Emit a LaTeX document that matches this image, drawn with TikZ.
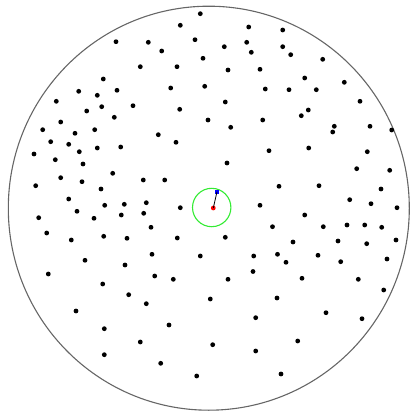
\documentclass[tikz,border=0pt]{standalone}
\begin{document}
\begin{tikzpicture}[x=1pt,y=-1pt,
  rim/.style={draw=black!60,line width=1.1pt}]
\useasboundingbox (0,0) rectangle (411,412);
\draw[rim] (208.8,208.2) ellipse [x radius=200.5, y radius=202];
\foreach \x/\y in {
116/41.7, 103.3/79, 78.7/91.3, 97.3/95.3, 117/90.3, 56.3/101.3, 101.7/106.7, 133/105.7,
86.7/111, 60.7/122, 114.3/117.3, 42.7/129.7, 75/133.3, 94.7/129.7,
200.3/13.7, 180.3/25.3, 248.7/27, 148.3/42.3, 195/39.7, 224.3/46.7, 246.7/42.3, 161.7/51,
251.3/52.3, 140.3/66.7, 177/66.7, 203/58.3, 228/70, 260/69.3, 170.7/88, 204.7/86.3,
265.3/89, 225.3/102, 179.7/109.3, 208/120, 262.7/120, 230.7/127.3, 158.3/134.7,
282.7/30, 282.7/46.7, 290.7/54.7, 322.7/59.3, 304.7/78, 344.3/82.3, 289/89.7, 316.3/89.7,
360/101.3, 308.3/110, 301.3/115.7, 334.3/126.3, 332.7/132, 370/126.3, 391.7/130,
50.7/141.7, 68.7/144.3, 79.3/151.7, 97.3/148, 120.7/147, 34/154, 55.3/159.7, 83/164,
112.7/173.3, 60.7/177.7, 82/181.7, 35.7/185.7, 101/189, 68.7/199, 104.7/205.3, 124.3/204.3,
77/211.3, 121.3/215, 38.7/217.7, 94/218.3, 46.7/233, 71.3/240, 103.7/236.3, 127/238.3,
85/260.3, 125/265, 48.3/274,
176/142.3, 269/150.7, 227/163, 143.3/180, 164.7/180, 146.3/202.7, 180.3/207.7, 143.7/213.3,
260/205.3, 279/186.3, 151/227.3, 272.5/226.7, 177.3/238, 225.3/237.3, 152/254.3, 200.3/256,
253.7/256, 277.5/254.3, 253/271.5,
308.7/148, 367.3/151.7, 356.7/168.7, 389.7/170.3, 319/185.7, 381/189, 349.7/199.7,
371/203.7, 397/207.7, 304.7/215, 323.3/226.7, 347/225, 364.7/225, 381.7/227.3, 293/242,
338/241, 366.7/243.7, 396/240, 286/262.3, 318/255.3, 340.7/261.7, 387/259,
102.7/284, 128.7/294.7, 76/311, 104.3/328.7, 104.3/354.7,
154.7/276, 173.3/279.3, 228/279.3, 210.3/299, 146.3/303.7, 255.7/317.7, 169/325,
140.3/342, 212.7/344.7, 255.7/351, 160.7/363.3, 196.7/376,
302/278.3, 358.3/279.3, 383.7/290, 277/298, 326/312.7, 362/318.7, 297.7/341, 281/374}
  \fill (\x,\y) circle [radius=2.4];
\draw[green!90!black!80,line width=1.1pt] (211.7,207.5) circle [radius=19.2];
\node[circle,fill=red,inner sep=0pt,minimum size=4.8pt] (r) at (213.3,208) {};
\node[rectangle,fill=blue,inner sep=0pt,minimum size=4.2pt] (b) at (217,191.7) {};
\draw[line width=0.8pt] (r.center) -- (b.center);
\end{tikzpicture}
\end{document}
